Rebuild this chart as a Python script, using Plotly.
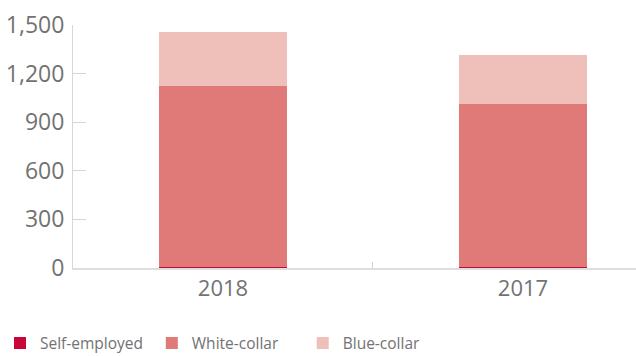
import plotly.graph_objects as go

years = ["2018", "2017"]
self_employed = [8, 7]
white_collar = [1115, 1005]
blue_collar = [334, 303]

series_names = ["Self-employed", "White-collar", "Blue-collar"]
series_values = [self_employed, white_collar, blue_collar]
series_colors = ["#c8063a", "#df7a78", "#efc0ba"]

y_ticks = [0, 300, 600, 900, 1200, 1500]
y_ticktext = ["0", "300", "600", "900", "1,200", "1,500"]

FONT = "Open Sans, Liberation Sans, sans-serif"
GREY = "#727272"

fig = go.Figure()
legend_ids = ["legend", "legend2", "legend3"]
for name, vals, col, lg in zip(series_names, series_values, series_colors, legend_ids):
    fig.add_trace(go.Bar(
        x=years, y=vals, name=name, marker=dict(color=col, line=dict(width=0)),
        legend=lg, showlegend=True,
    ))

# one single-entry legend per series so each entry can be placed on its own
legend_style = dict(
    orientation="h", xref="container", yref="container",
    yanchor="middle", xanchor="left", y=0.035,
    font=dict(family=FONT, size=15.5, color=GREY), bgcolor="rgba(0,0,0,0)",
    borderwidth=0, tracegroupgap=0,
)

fig.update_layout(
    barmode="stack",
    bargap=0.573,
    width=636, height=356,
    margin=dict(l=73, r=0, t=25, b=88, autoexpand=False),
    paper_bgcolor="white", plot_bgcolor="white",
    font=dict(family=FONT, color=GREY),
    showlegend=True,
    legend=dict(legend_style, x=-0.0215),
    legend2=dict(legend_style, x=0.2387),
    legend3=dict(legend_style, x=0.476),
    xaxis=dict(
        type="category", range=[-0.5, 1.3767],
        showline=True, linecolor="#dedede", linewidth=2,
        ticks="inside", ticklen=6, tickcolor="#cfcfcf", tickwidth=1,
        tickson="boundaries",
        tickfont=dict(family=FONT, size=22, color=GREY),
        showgrid=False, zeroline=False,
    ),
    yaxis=dict(
        range=[0, 1500], tickvals=y_ticks, ticktext=y_ticktext,
        showline=True, linecolor="#d6d6d6", linewidth=1,
        ticks="inside", ticklen=13, tickcolor="#d6d6d6", tickwidth=1,
        tickfont=dict(family=FONT, size=23, color=GREY),
        ticklabelstandoff=3,
        showgrid=False, zeroline=False,
    ),
)

fig.write_html("out.html")
